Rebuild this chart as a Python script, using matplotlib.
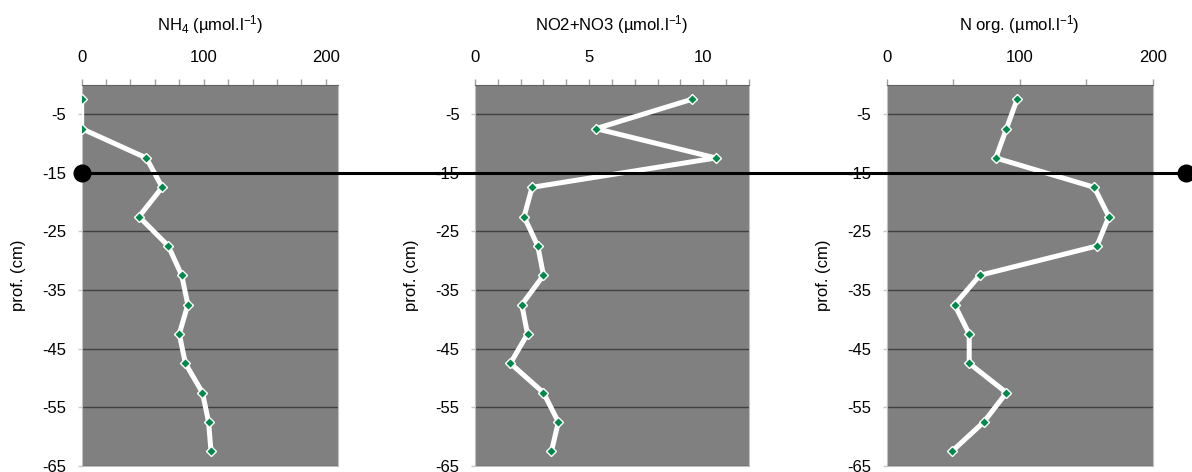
import matplotlib.pyplot as plt
from matplotlib.ticker import MultipleLocator, NullFormatter
from matplotlib.lines import Line2D

plt.rcParams['font.family'] = ['Liberation Sans', 'DejaVu Sans']
plt.rcParams['mathtext.fontset'] = 'custom'
plt.rcParams['mathtext.rm'] = 'Liberation Sans'
plt.rcParams['mathtext.it'] = 'Liberation Sans'
plt.rcParams['mathtext.default'] = 'regular'

depth = [-2.5, -7.5, -12.5, -17.5, -22.5, -27.5, -32.5, -37.5, -42.5, -47.5, -52.5, -57.5, -62.5]
nh4 = [0, 0, 53, 66, 47, 71, 82, 87, 80, 85, 99, 104, 106]
no23 = [9.5, 5.3, 10.55, 2.5, 2.15, 2.75, 3.0, 2.05, 2.3, 1.55, 3.0, 3.65, 3.35]
norg = [98, 90, 82, 156, 167, 158, 70, 51, 62, 62, 90, 73, 49]

titles = ['NH$_4$ (µmol.l$^{-1}$)', 'NO2+NO3 (µmol.l$^{-1}$)', 'N org. (µmol.l$^{-1}$)']
xmax = [210, 12, 200]
xmajor = [100, 5, 100]
xminor = [20, 1, 50]
yticks = [-5, -15, -25, -35, -45, -55, -65]
mark_depth = -15

fig = plt.figure(figsize=(11.92, 4.72), dpi=100)
boxes = [[0.0685, 0.0127, 0.2150, 0.808],
         [0.3985, 0.0127, 0.2298, 0.808],
         [0.7439, 0.0127, 0.2232, 0.808]]
axes = []
for i, vals in enumerate([nh4, no23, norg]):
    ax = fig.add_axes(boxes[i])
    ax.set_facecolor('#808080')
    ax.plot(vals, depth, color='white', lw=3.6, marker='D', ms=5,
            mfc='#00894a', mec='white', mew=1.0, zorder=3)
    ax.set_xlim(0, xmax[i])
    ax.set_ylim(-65, 0)
    ax.xaxis.tick_top()
    ax.xaxis.set_label_position('top')
    ax.xaxis.set_major_locator(MultipleLocator(xmajor[i]))
    ax.xaxis.set_minor_locator(MultipleLocator(xminor[i]))
    ax.xaxis.set_minor_formatter(NullFormatter())
    ax.set_yticks(yticks)
    ax.set_yticklabels([str(t) for t in yticks])
    ax.tick_params(axis='x', which='both', direction='out', length=4, width=1,
                   color='#a0a0a0', labelsize=12, pad=10)
    ax.tick_params(axis='y', direction='out', length=3, width=1,
                   color='#c8c8c8', labelsize=12, pad=8)
    ax.grid(axis='y', color='#404040', lw=1)
    ax.set_axisbelow(True)
    for s in ['left', 'right', 'bottom']:
        ax.spines[s].set_color('#c0c0c0')
    ax.spines['top'].set_color('#606060')
    ax.set_xlabel(titles[i], fontsize=12, labelpad=14)
    ax.set_ylabel('prof. (cm)', fontsize=12, labelpad=12)
    axes.append(ax)

# horizontal marker line across all panels at -15 cm
fig.canvas.draw()
x0, y0 = fig.transFigure.inverted().transform(axes[0].transData.transform((0, mark_depth)))
x1 = 1186 / 1192
fig.add_artist(Line2D([x0, x1], [y0, y0], transform=fig.transFigure,
                      color='black', lw=2.2, zorder=10))
fig.add_artist(Line2D([x0, x1], [y0, y0], transform=fig.transFigure,
                      color='black', lw=0, marker='o', ms=12, zorder=11))

fig.savefig('out.png', dpi=100)
